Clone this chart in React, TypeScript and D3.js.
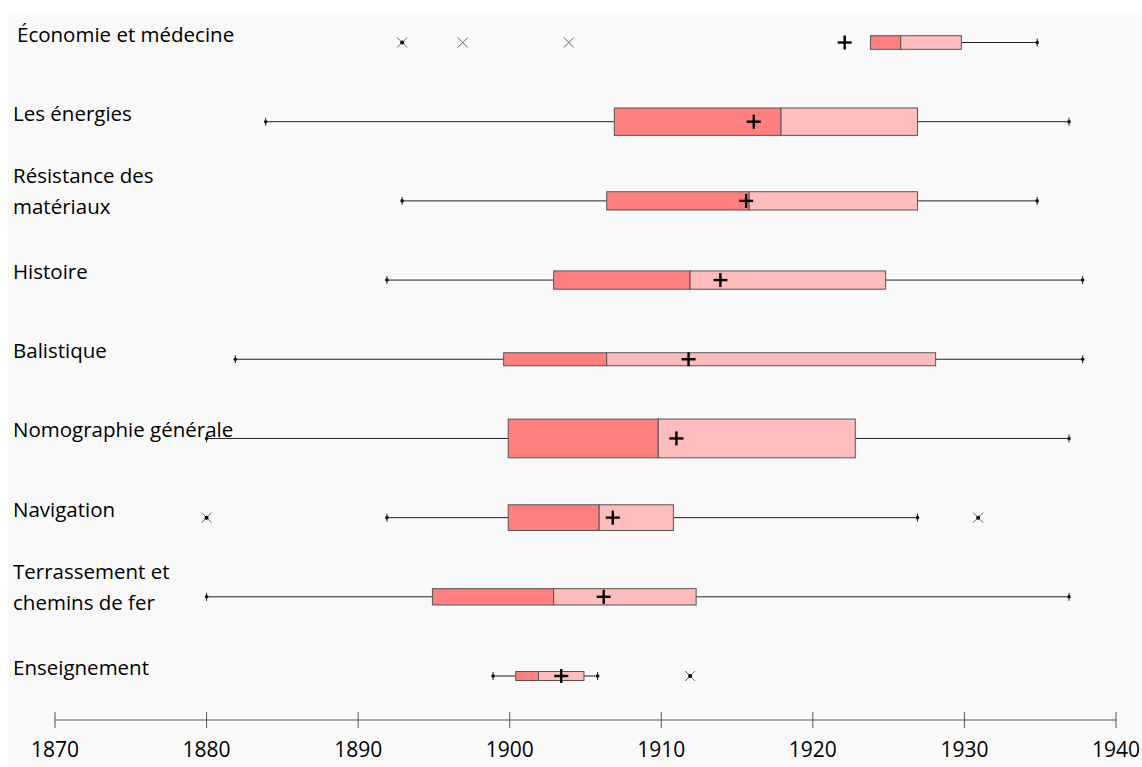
import React from "react";
import * as d3 from "d3";

const categories = [
  ["Économie et médecine"],
  ["Les énergies"],
  ["Résistance des", "matériaux"],
  ["Histoire"],
  ["Balistique"],
  ["Nomographie générale"],
  ["Navigation"],
  ["Terrassement et", "chemins de fer"],
  ["Enseignement"],
];
const minValues = [1923.8, 1883.9, 1892.9, 1891.9, 1881.9, 1880, 1891.9, 1880, 1898.9];
const q1Values = [1923.8, 1906.9, 1906.4, 1902.9, 1899.6, 1899.9, 1899.9, 1894.9, 1900.4];
const medianValues = [1925.8, 1917.9, 1915.8, 1911.9, 1906.4, 1909.8, 1905.9, 1902.9, 1901.9];
const meanValues = [1922.1, 1916.1, 1915.6, 1913.9, 1911.8, 1911.0, 1906.8, 1906.2, 1903.4];
const q3Values = [1929.8, 1926.9, 1926.9, 1924.8, 1928.1, 1922.8, 1910.8, 1912.3, 1904.9];
const maxValues = [1934.8, 1936.9, 1934.8, 1937.8, 1937.8, 1936.9, 1926.9, 1936.9, 1905.8];
const outlierValues = [[1892.9, 1896.9, 1903.9], [], [], [], [], [], [1880, 1930.9], [], [1911.9]];
const outlierDotted = [[true, false, false], [], [], [], [], [], [true, true], [], [true]];
const relativeCounts = [13.6, 27.4, 18.3, 18.3, 13, 38.7, 25.7, 16.3, 9];
const tickYears = [1870, 1880, 1890, 1900, 1910, 1920, 1930, 1940];

export default function App() {
  const W = 1142, H = 767;
  const x = d3.scaleLinear().domain([1870, 1940]).range([55, 1116]);
  const y = d3.scalePoint<number>().domain(d3.range(categories.length)).range([42.5, 676]);
  const hScale = d3.scaleLinear().domain([0, 1]).range([0, 1]);
  const font = "'Open Sans', 'Liberation Sans', sans-serif";
  const axisY = 720;
  return (
    <svg width={W} height={H} style={{ position: "absolute", left: 0, top: 0 }} fontFamily={font}>
      <rect x={0} y={0} width={W} height={H} fill="#ffffff" />
      <rect x={8} y={13} width={W - 8} height={H - 13} fill="#f9f9f9" />
      {categories.map((lines, i) => {
        const cy = y(i)!;
        const h = hScale(relativeCounts[i]);
        const top = cy - h / 2;
        const lx = i === 0 ? 17 : 13;
        const baselines = lines.length === 1 ? [cy - 1] : [cy - 18, cy + 13];
        return (
          <g key={i}>
            {lines.map((t, k) => (
              <text key={k} x={lx} y={baselines[k]} fontSize={20.5} fill="#000">{t}</text>
            ))}
            {minValues[i] < q1Values[i] && (
              <line x1={x(minValues[i])} x2={x(q1Values[i])} y1={cy} y2={cy} stroke="#222" strokeWidth={1} />
            )}
            <line x1={x(q3Values[i])} x2={x(maxValues[i])} y1={cy} y2={cy} stroke="#222" strokeWidth={1} />
            {[minValues[i], maxValues[i]].map((v, k) =>
              k === 0 && minValues[i] >= q1Values[i] ? null : (
                <g key={k}>
                  <line x1={x(v)} x2={x(v)} y1={cy - 4} y2={cy + 4} stroke="#222" strokeWidth={1} />
                  <circle cx={x(v)} cy={cy} r={1.8} fill="#111" />
                </g>
              )
            )}
            <rect x={x(q1Values[i])} y={top} width={x(medianValues[i]) - x(q1Values[i])} height={h}
              fill="#ff7f7f" stroke="#555" strokeWidth={1} />
            <rect x={x(medianValues[i])} y={top} width={x(q3Values[i]) - x(medianValues[i])} height={h}
              fill="#ffbcbc" stroke="#555" strokeWidth={1} />
            <g stroke="#000" strokeWidth={2.4}>
              <line x1={x(meanValues[i]) - 7} x2={x(meanValues[i]) + 7} y1={cy} y2={cy} />
              <line x1={x(meanValues[i])} x2={x(meanValues[i])} y1={cy - 7} y2={cy + 7} />
            </g>
            {outlierValues[i].map((v, k) => (
              <g key={k}>
                <line x1={x(v) - 5} x2={x(v) + 5} y1={cy - 5} y2={cy + 5} stroke="#666" strokeWidth={1} />
                <line x1={x(v) - 5} x2={x(v) + 5} y1={cy + 5} y2={cy - 5} stroke="#666" strokeWidth={1} />
                {outlierDotted[i][k] && <circle cx={x(v)} cy={cy} r={2} fill="#000" />}
              </g>
            ))}
          </g>
        );
      })}
      <line x1={x(1870)} x2={x(1940)} y1={axisY} y2={axisY} stroke="#555" strokeWidth={1} />
      {tickYears.map((t) => (
        <g key={t}>
          <line x1={x(t)} x2={x(t)} y1={axisY - 8} y2={axisY + 8} stroke="#555" strokeWidth={1} />
          <text x={x(t)} y={757} textAnchor="middle" fontSize={21} fill="#000">{t}</text>
        </g>
      ))}
    </svg>
  );
}
